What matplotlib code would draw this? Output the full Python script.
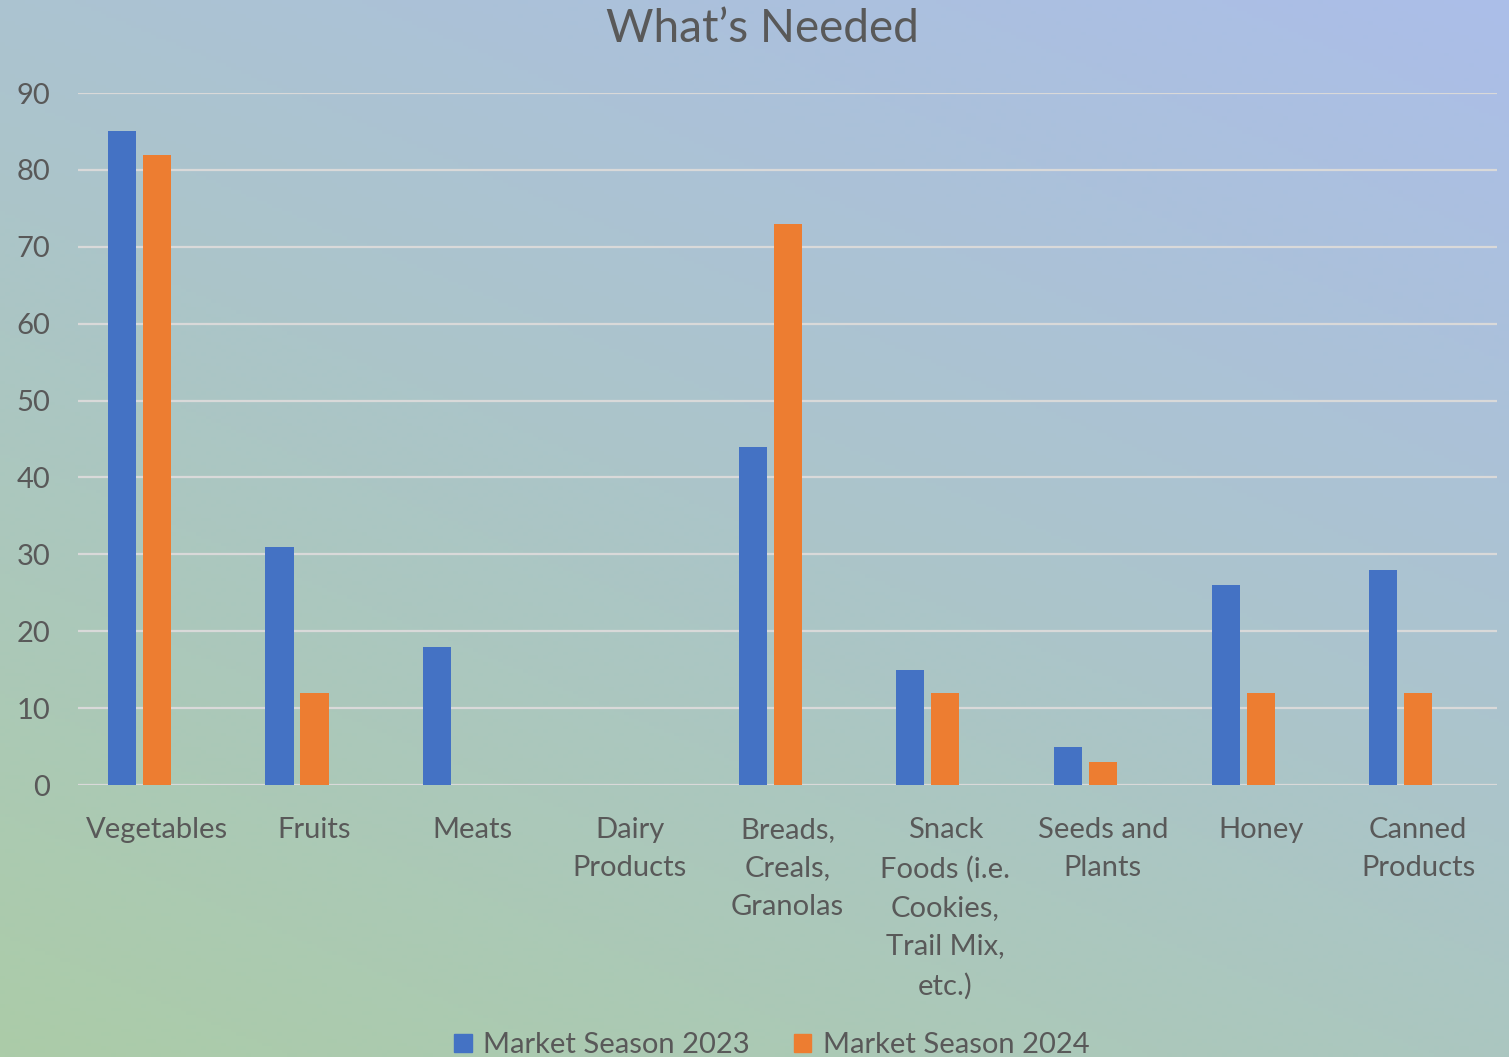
import numpy as np
import matplotlib.pyplot as plt
from matplotlib.patches import Patch

categories = ["Vegetables", "Fruits", "Meats", "Dairy\nProducts",
              "Breads,\nCreals,\nGranolas",
              "Snack\nFoods (i.e.\nCookies,\nTrail Mix,\netc.)",
              "Seeds and\nPlants", "Honey", "Canned\nProducts"]
season_2023 = [85, 31, 18, 0, 44, 15, 5, 26, 28]
season_2024 = [82, 12, 0, 0, 73, 12, 3, 12, 12]
yticks = [0, 10, 20, 30, 40, 50, 60, 70, 80, 90]

blue = "#4472c4"
orange = "#ed7d31"
text_col = "#595959"
plt.rcParams['font.family'] = ['Lato', 'DejaVu Sans']

fig = plt.figure(figsize=(15.09, 10.57), dpi=100)

# gradient background, green bottom-left to blue top-right
bg = fig.add_axes([0, 0, 1, 1])
gx, gy = np.meshgrid(np.linspace(0, 1, 300), np.linspace(0, 1, 300))
t = np.clip((gx * 0.6 + gy * 1.0) / 1.6, 0, 1)[..., None]
c0 = np.array([0xab, 0xcc, 0xa8]) / 255
c1 = np.array([0xab, 0xbe, 0xe9]) / 255
bg.imshow(c0 * (1 - t) + c1 * t, origin="lower", extent=[0, 1, 0, 1], aspect="auto")
bg.axis("off")

ax = fig.add_axes([0.0517, 0.2573, 0.9404, 0.6547])
ax.set_facecolor("none")
x = np.arange(len(categories))
w = 0.178
ax.bar(x - 0.222, season_2023, width=w, color=blue, zorder=3)
ax.bar(x, season_2024, width=w, color=orange, zorder=3)

ax.set_xlim(-0.5, len(categories) - 0.5)
ax.set_ylim(0, 90)
ax.set_yticks(yticks)
ax.grid(axis="y", color="#d9d9d9", linewidth=1.6, zorder=1)
for s in ax.spines.values():
    s.set_visible(False)
ax.tick_params(axis="both", length=0, labelsize=21, labelcolor=text_col)
ax.tick_params(axis="y", pad=20)
ax.tick_params(axis="x", pad=23)
ax.set_xticks(x)
ax.set_xticklabels(categories, linespacing=1.59, va="top")

fig.text(0.505, 0.973, "What\u2019s Needed", ha="center", va="center",
         fontsize=33, color=text_col)

handles = [Patch(color=blue, label="Market Season 2023"),
           Patch(color=orange, label="Market Season 2024")]
fig.legend(handles=handles, loc="center", bbox_to_anchor=(0.5115, 0.011),
           ncol=2, frameon=False, fontsize=21, labelcolor=text_col,
           handlelength=0.6, handleheight=0.6, handletextpad=0.4, columnspacing=1.5)

fig.savefig("out.png", dpi=100)
